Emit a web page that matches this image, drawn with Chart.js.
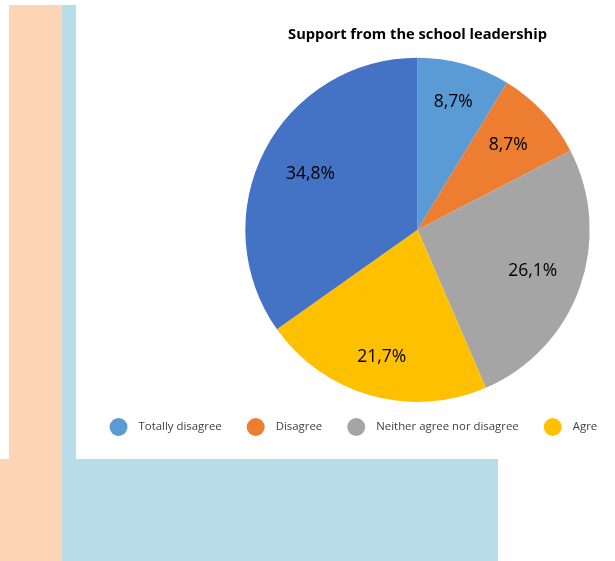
<!DOCTYPE html>
<html>
<head>
<meta charset="utf-8">
<title>Support from the school leadership</title>
<script src="https://cdn.jsdelivr.net/npm/chart.js@4/dist/chart.umd.min.js"></script>
<style>
  html, body { margin: 0; padding: 0; background: #fff; }
  body { width: 615px; height: 561px; position: relative; overflow: hidden; }
  .block { position: absolute; }
  .peach { background: #fbd5b5; }
  .blue  { background: #b7dde8; }
  #chartBox { position: absolute; left: 76px; top: 0; width: 522px; height: 459px; overflow: hidden; background: #fff; }
  #chartBox canvas { position: absolute; left: 0; top: 0; }
</style>
</head>
<body>
<div class="block peach" style="left:9px; top:5px; width:53px; height:556px;"></div>
<div class="block peach" style="left:0; top:459px; width:62px; height:102px;"></div>
<div class="block blue"  style="left:62px; top:5px; width:14px; height:454px;"></div>
<div class="block blue"  style="left:62px; top:459px; width:436px; height:102px;"></div>
<div id="chartBox"><canvas id="pieChart" width="683" height="459"></canvas></div>

<script>
/* ── Data ────────────────────────────────────────────────────────────────── */
const CATEGORIES = ['Totally disagree', 'Disagree', 'Neither agree nor disagree', 'Agree', 'Totally agree'];
const SHARES     = [8.7, 8.7, 26.1, 21.7, 34.8];
const COLORS     = ['#5b9bd5', '#ed7d31', '#a5a5a5', '#ffc000', '#4472c4'];

/* ── Style ───────────────────────────────────────────────────────────────── */
const FONT = '"Open Sans", "Noto Sans", sans-serif';
const LABEL_RADIUS = [0.77, 0.72, 0.71, 0.77, 0.70];   // fraction of radius for % labels

const pct = v => v.toFixed(1).replace('.', ',') + '%';

/** Percent labels inside each slice */
const sliceLabels = {
  id: 'sliceLabels',
  afterDatasetsDraw(chart) {
    const ctx  = chart.ctx;
    const meta = chart.getDatasetMeta(0);
    ctx.save();
    ctx.font = '17.5px ' + FONT;
    ctx.fillStyle = '#000';
    ctx.textAlign = 'center';
    ctx.textBaseline = 'middle';
    meta.data.forEach((arc, i) => {
      const p   = arc.getProps(['x', 'y', 'startAngle', 'endAngle', 'outerRadius'], true);
      const mid = (p.startAngle + p.endAngle) / 2;
      const r   = p.outerRadius * LABEL_RADIUS[i];
      ctx.fillText(pct(SHARES[i]), p.x + Math.cos(mid) * r, p.y + Math.sin(mid) * r);
    });
    ctx.restore();
  }
};

/** Excel-style legend row: dot, gap, text */
const legendRow = {
  id: 'legendRow',
  afterDraw(chart) {
    const ctx = chart.ctx;
    const dot = 18, gap = 11, spacing = 25, y = 427;
    ctx.save();
    ctx.font = '11.4px ' + FONT;
    ctx.textBaseline = 'middle';
    const widths = CATEGORIES.map(t => ctx.measureText(t).width);
    const total  = widths.reduce((a, w) => a + dot + gap + w, 0) + spacing * (CATEGORIES.length - 1);
    let x = chart.width / 2 - total / 2;
    CATEGORIES.forEach((label, i) => {
      ctx.fillStyle = COLORS[i];
      ctx.beginPath();
      ctx.arc(x + dot / 2, y, dot / 2, 0, Math.PI * 2);
      ctx.fill();
      ctx.fillStyle = '#404040';
      ctx.fillText(label, x + dot + gap, y);
      x += dot + gap + widths[i] + spacing;
    });
    ctx.restore();
  }
};

/* ── Chart ───────────────────────────────────────────────────────────────── */
new Chart(document.getElementById('pieChart'), {
  type: 'pie',
  data: {
    labels: CATEGORIES,
    datasets: [{
      data: SHARES,
      backgroundColor: COLORS,
      borderWidth: 0
    }]
  },
  options: {
    responsive: false,
    devicePixelRatio: 1,
    animation: false,
    events: [],
    layout: { padding: { top: 0, bottom: 57, left: 0, right: 0 } },
    plugins: {
      legend: { display: false },
      tooltip: { enabled: false },
      title: {
        display: true,
        text: 'Support from the school leadership',
        color: '#000',
        font: { family: FONT, size: 14.7, weight: 'bold' },
        padding: { top: 26, bottom: 14 }
      }
    }
  },
  plugins: [sliceLabels, legendRow]
});
</script>
</body>
</html>
